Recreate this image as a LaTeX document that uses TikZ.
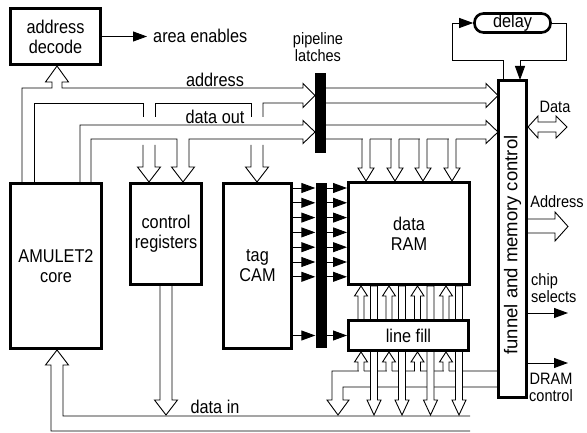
\documentclass[tikz,border=0pt]{standalone}
\usepackage{fontspec}
\setmainfont{Liberation Sans}[FakeStretch=0.88]
\newfontfamily\widefont{Liberation Sans}
\usetikzlibrary{arrows.meta,backgrounds}

\begin{document}
\begin{tikzpicture}[x=1pt, y=-1pt,
  blk/.style={draw, line width=2.6pt, fill=white, inner sep=0pt, align=center, font=\fontsize{18.5}{20}\selectfont},
  lbl/.style={inner sep=0pt, align=center, font=\fontsize{18.5}{20}\selectfont},
  side/.style={inner sep=0pt, align=center, font=\fontsize{16.5}{17}\selectfont},
  latch/.style={fill=black, inner sep=0pt, minimum width=11},
  wire/.style={line width=0.9pt},
  bus/.style={line width=0.9pt, fill=white},
  sig/.style={line width=0.9pt, -{Triangle[length=14pt,width=10pt]}}
]
  \useasboundingbox (0,0) rectangle (587,433);

  % Blocks
  \node[blk, minimum width=90.4, minimum height=56.4]  (decode)   at (55.5,36.5)  {address\\decode};
  \node[blk, minimum width=91.4, minimum height=165.4] (core)     at (56,266)     {AMULET2\\core};
  \node[blk, minimum width=71.4, minimum height=101.4] (ctrl)     at (166,234)    {control\\registers};
  \node[blk, minimum width=68.4, minimum height=165.4] (cam)      at (257.5,266)  {tag\\CAM};
  \node[blk, minimum width=121.4, minimum height=102.4] (ram)     at (409,233.5)  {data\\RAM};
  \node[blk, minimum width=120.4, minimum height=30.4] (linefill) at (408.5,335.5) {line fill};
  \node[blk, minimum width=28.4, minimum height=317.4] (funnel)   at (512.5,239)  {};
  \node[rotate=90, inner sep=0pt, font=\widefont\fontsize{18.5}{20}\selectfont] (funtxt) at (512.5,245) {funnel and memory control};
  \node[blk, rounded corners=9pt, minimum width=76, minimum height=19] (delay) at (512.5,23) {delay};
  \node[latch, minimum height=80]  (lat1) at (320.5,113) {};
  \node[latch, minimum height=165] (lat2) at (321,265.5) {};

  % Labels
  \node[lbl, anchor=west] (ena)     at (153,36)    {area enables};
  \node[lbl]              (adrlbl)  at (215,80)    {address};
  \node[lbl]              (doutlbl) at (215,116.5) {data out};
  \node[lbl]              (dinlbl)  at (215,407)   {data in};
  \node[side] (pipe) at (318,47) {pipeline\\latches};
  \node[side]             (datalbl) at (555,107)   {Data};
  \node[side]             (adrout)  at (557,202)   {Address};
  \node[side, align=left, anchor=west] (chiplbl) at (531,288) {chip\\selects};
  \node[side]             (dramlbl) at (551,387)   {DRAM\\control};

  \begin{pgfonlayer}{background}
    % address bus
    \draw[wire] (22,183) |- (52,88) -- (52,82) -- (45.5,82) -- (57,66) -- (68.5,82) -- (62,82) -- (62,88)
      -- (303,88) -- (303,83.5) -- (315,95.5) -- (303,107.5) -- (303,103) -| (263,117);
    \draw[wire] (251,117) |- (155,103) -- (155,117);
    \draw[wire] (143,117) |- (34,103) -- (34,183);
    \draw[wire] (143,145) -- (143,167) -- (137.5,167) -- (149,182) -- (160.5,167) -- (155,167) -- (155,145);
    \draw[wire] (251,145) -- (251,167) -- (245.5,167) -- (257,182) -- (268.5,167) -- (263,167) -- (263,145);

    % data out bus
    \draw[wire] (80,183) |- (303,125) -- (303,120.5) -- (315,132) -- (303,143.5) -- (303,139) -| (189,167)
      -- (194.5,167) -- (183,182) -- (171.5,167) -- (177,167) |- (91,139) -- (91,183);

    % past the latches
    \draw[wire] (325,88) -- (486,88) -- (486,83.5) -- (498,95.5) -- (486,107.5) -- (486,103) -- (325,103);
    \draw[wire] (325,125) -- (486,125) -- (486,120.5) -- (498,132) -- (486,143.5) -- (486,139) -- (325,139);
    \foreach \cx in {366,395,423,452} {
      \fill[white] (\cx-3.5,137) rectangle (\cx+3.5,141);
      \draw[wire] (\cx-4,139) -- (\cx-4,168) -- (\cx-8,168) -- (\cx,181) -- (\cx+8,168) -- (\cx+4,168) -- (\cx+4,139);
    }

    % tag CAM to data RAM
    \foreach \k in {0,...,6} {
      \pgfmathsetmacro\ry{188+14.8*\k}
      \draw[sig] (cam.east |- 0,\ry) -- (lat2.west |- 0,\ry);
      \draw[sig] (lat2.east |- 0,\ry) -- (ram.west |- 0,\ry);
    }
    \draw[sig] (cam.east |- linefill.west) -- (lat2.west |- linefill.west);
    \draw[sig] (lat2.east |- linefill.west) -- (linefill.west);

    % line fill into data RAM
    \foreach \cx in {361,389,417.5,446} {
      \draw[wire] (\cx-3,319) -- (\cx-3,296) -- (\cx-6.5,296) -- (\cx,286) -- (\cx+6.5,296) -- (\cx+3,296) -- (\cx+3,319);
    }

    % funnel back to data in
    \draw[wire] (498,371) -- (332,371) -- (332,400) -- (327,400) -- (338,415) -- (349,400) -- (343,400) -- (343,387) -- (498,387);
    \foreach \cx in {361,389,417.5,446} {
      \fill[white] (\cx-2.5,369) rectangle (\cx+2.5,373);
      \draw[wire] (\cx-3,371) -- (\cx-3,362) -- (\cx-6.5,362) -- (\cx,352) -- (\cx+6.5,362) -- (\cx+3,362) -- (\cx+3,371);
    }
    \foreach \cx in {374,402,430.5,459} {
      \draw[bus] (\cx-3.5,286) -- (\cx-3.5,400) -- (\cx-7,400) -- (\cx,415) -- (\cx+7,400) -- (\cx+3.5,400) -- (\cx+3.5,286) -- cycle;
    }
    \draw[bus] (160,286) -- (160,400) -- (154.5,400) -- (166,415) -- (177.5,400) -- (172,400) -- (172,286);

    % data in bus
    \draw[wire] (470,431) -| (51,365) -- (45.5,365) -- (57,350) -- (68.5,365) -- (63,365) |- (470,416);

    % delay loop
    \draw[sig] (503,80) |- (452,60) |- (delay.west);
    \draw[sig] (delay.east) -| (566,60) -| (520,80);

    % outputs
    \draw[sig] (decode.east) -- ++(45,0);
    \draw[bus] (528,127) -- (538,116) -- (538,122) -- (556,122) -- (556,116) -- (567,127) -- (556,138)
      -- (556,132) -- (538,132) -- (538,138) -- cycle;
    \draw[bus] (527,219) -- (555,219) -- (555,212) -- (568,226.5) -- (555,241) -- (555,233) -- (527,233);
    \draw[sig] (funnel.east |- 0,313) -- ++(40,0);
    \draw[sig] (funnel.east |- 0,363) -- ++(40,0);
  \end{pgfonlayer}
\end{tikzpicture}
\end{document}
